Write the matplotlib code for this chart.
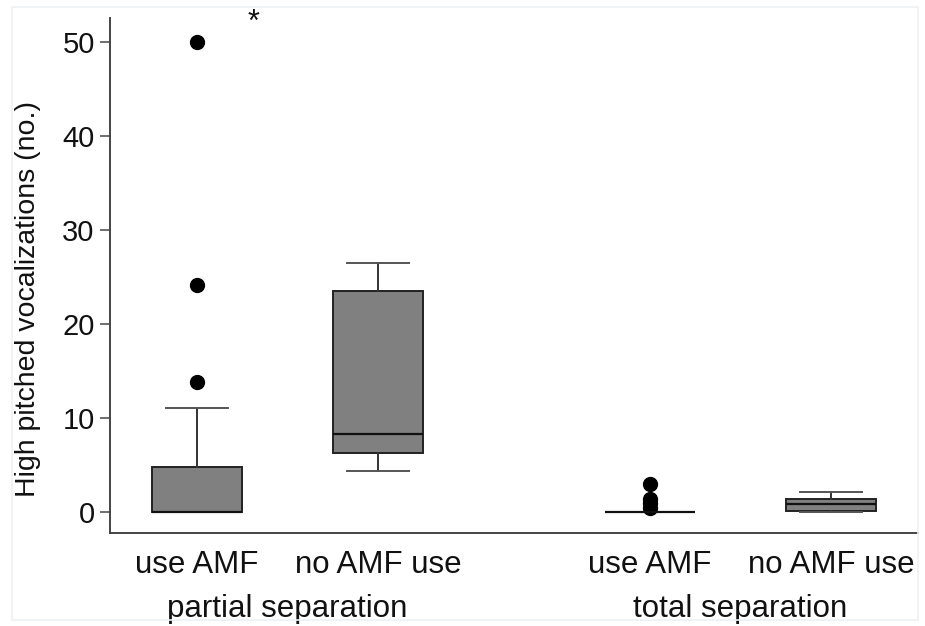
import matplotlib
matplotlib.use("Agg")
import matplotlib.pyplot as plt
from matplotlib.patches import Rectangle

plt.rcParams['font.family'] = ['Liberation Sans', 'DejaVu Sans']

groups = ["use AMF", "no AMF use", "use AMF", "no AMF use"]
group_labels = ["partial separation", "total separation"]
positions = [1, 2, 3.5, 4.5]
medians = [0.0, 8.3, 0.0, 0.8]
q1s = [0.0, 6.2, 0.0, 0.05]
q3s = [4.7, 23.5, 0.0, 1.35]
whis_lo = [0.0, 4.3, 0.0, 0.0]
whis_hi = [11.0, 26.5, 0.0, 2.05]
fliers = [[13.8, 24.1, 50.0], [], [0.4, 0.9, 1.3, 2.9], []]
yticks = [0, 10, 20, 30, 40, 50]
ylabel = "High pitched vocalizations (no.)"

fig = plt.figure(figsize=(9.25, 6.26), dpi=100)
ax = fig.add_axes([110/925, 1 - 533/626, (918-110)/925, (533-18)/626])

stats = []
for i in range(len(groups)):
    stats.append(dict(med=medians[i], q1=q1s[i], q3=q3s[i], whislo=whis_lo[i],
                      whishi=whis_hi[i], fliers=fliers[i], label=groups[i]))

ax.bxp(stats, positions=positions, widths=0.5, patch_artist=True,
       showfliers=True,
       boxprops=dict(facecolor='#808080', edgecolor='#222222', linewidth=1.4),
       medianprops=dict(color='#111111', linewidth=1.6),
       whiskerprops=dict(color='#333333', linewidth=1.4),
       capprops=dict(color='#555555', linewidth=1.4),
       capwidths=0.34,
       flierprops=dict(marker='o', markerfacecolor='black', markeredgecolor='black',
                       markersize=10))

ax.set_xlim(0.52, 4.98)
ax.set_ylim(-2.27, 52.52)
ax.set_yticks(yticks)
ax.set_yticklabels([str(t) for t in yticks], fontsize=21, color='#111111')
ax.tick_params(axis='y', length=7, width=1.2, color='#555555', pad=4)
ax.set_xticks([])
for s in ['top', 'right']:
    ax.spines[s].set_visible(False)
for s in ['left', 'bottom']:
    ax.spines[s].set_color('#444444')
    ax.spines[s].set_linewidth(1.4)

ax.set_ylabel(ylabel, fontsize=20.5, color='#111111')
ax.yaxis.set_label_coords(-0.085, 0.454)

for p, g in zip(positions, groups):
    ax.text(p, -0.062, g, transform=ax.get_xaxis_transform(), ha='center', va='center',
            fontsize=22.5, color='#111111', clip_on=False)
group_pos = [(positions[0] + positions[1]) / 2, (positions[2] + positions[3]) / 2]
for p, g in zip(group_pos, group_labels):
    ax.text(p, -0.147, g, transform=ax.get_xaxis_transform(), ha='center', va='center',
            fontsize=22.5, color='#111111', clip_on=False)

ax.text(1.31, 51.1, "*", ha='center', va='baseline', fontsize=22, color='#111111',
        clip_on=False)

fig.patches.append(Rectangle((12/925, 1 - 620/626), (918-12)/925, (620-7)/626,
                             transform=fig.transFigure, fill=False,
                             edgecolor='#edf1f4', linewidth=1.2))

fig.savefig("out.png", dpi=100)
